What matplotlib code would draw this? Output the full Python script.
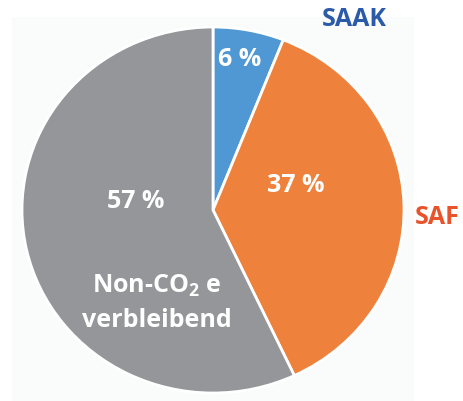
import matplotlib
matplotlib.use("Agg")
import matplotlib.pyplot as plt
from matplotlib.patches import Rectangle

plt.rcParams['font.family'] = ['Open Sans', 'DejaVu Sans']
plt.rcParams['mathtext.default'] = 'regular'

categories = ["SAAK", "SAF", "Non-CO$_2$ e\nverbleibend"]
values = [6, 37, 57]
colors = ["#4f98d4", "#ee823c", "#949699"]
name_colors = ["#2b5ba8", "#e9532b", "#ffffff"]

W, H = 463, 401
fig = plt.figure(figsize=(W / 100, H / 100), dpi=100)
bg = Rectangle((12 / W, 0), (414 - 12) / W, (401 - 17) / H,
               transform=fig.transFigure, facecolor="#fafbfb",
               edgecolor="none", zorder=-10)
fig.add_artist(bg)

cx, cy, rx, ry = 213, 210, 191, 183
ax = fig.add_axes([(cx - rx) / W, (H - cy - ry) / H, 2 * rx / W, 2 * ry / H])
ax.set_zorder(1)
ax.patch.set_visible(False)
ax.pie(values, colors=colors, startangle=90, counterclock=False,
       wedgeprops=dict(edgecolor="white", linewidth=2))
ax.set_aspect('auto')
ax.set_xlim(-1, 1)
ax.set_ylim(-1, 1)
ax.axis('off')

def d(px, py):
    return (px - cx) / rx, (cy - py) / ry

pct_pos = [d(240, 60), d(296, 186), d(136, 201)]
for v, (x, y) in zip(values, pct_pos):
    ax.text(x, y, f"{v} %", color="white", fontsize=18, fontweight="bold",
            ha="center", va="center")

name_pos = [d(354, 19), d(437, 217), d(157, 303)]
for name, c, (x, y) in zip(categories, name_colors, name_pos):
    ax.text(x, y, name, color=c, fontsize=18, fontweight="bold",
            ha="center", va="center", linespacing=1.45, clip_on=False)

fig.savefig("out.png", dpi=100)
